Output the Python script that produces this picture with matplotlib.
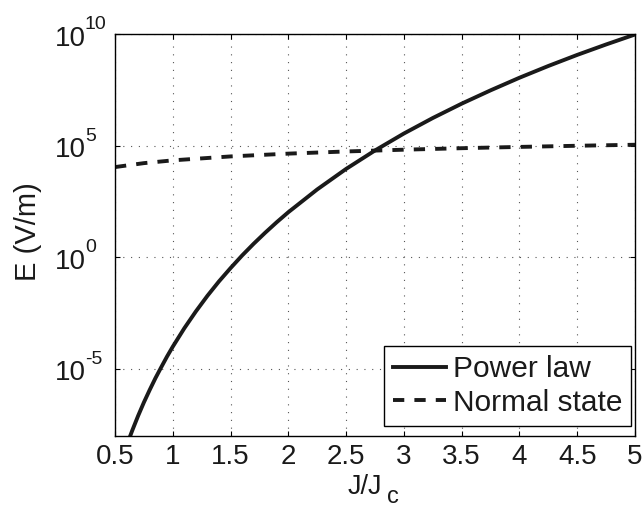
import numpy as np
import matplotlib
matplotlib.use("Agg")
import matplotlib.pyplot as plt
import matplotlib.transforms as mtransforms
from matplotlib.ticker import FixedLocator, NullLocator

plt.rcParams['font.family'] = ['Liberation Sans', 'DejaVu Sans']

# power law curve
j_pl = [0.6, 0.65, 0.7, 0.75, 0.8, 0.85, 0.9, 0.95, 1.0, 1.1, 1.2, 1.3, 1.4, 1.5, 1.6, 1.7,
        1.8, 1.9, 2.0, 2.25, 2.5, 2.75, 3.0, 3.25, 3.5, 3.75, 4.0, 4.25, 4.5, 4.75, 5.0]
e_pl = [3.7e-9, 1.8e-8, 8.0e-8, 3.2e-7, 1.15e-6, 3.9e-6, 1.2e-5, 3.6e-5, 1e-4, 6.7e-4,
        3.8e-3, 1.9e-2, 8.4e-2, 0.33, 1.21, 4.06, 12.7, 37.6, 105, 1.1e3, 9.1e3, 6.1e4,
        3.5e5, 1.73e6, 7.6e6, 3.0e7, 1.1e8, 3.7e8, 1.16e9, 3.4e9, 9.5e9]

# normal state curve
j_ns = [0.5, 0.75, 1.0, 1.5, 2.0, 2.5, 3.0, 3.5, 4.0, 4.5, 5.0]
e_ns = [1.1e4, 1.65e4, 2.2e4, 3.3e4, 4.4e4, 5.5e4, 6.6e4, 7.7e4, 8.8e4, 9.9e4, 1.1e5]

xticks = [0.5, 1, 1.5, 2, 2.5, 3, 3.5, 4, 4.5, 5]
xticklabels = ['0.5', '1', '1.5', '2', '2.5', '3', '3.5', '4', '4.5', '5']
yticks = [1e-5, 1e0, 1e5, 1e10]
yexps = ['-5', '0', '5', '10']

W, H = 644, 509
fig = plt.figure(figsize=(W/100, H/100), dpi=100)
ax = fig.add_axes([115/W, 1-436/H, 520/W, 402/H])

ax.plot(j_pl, e_pl, color='#1a1a1a', lw=2.8, label='Power law')
ax.plot(j_ns, e_ns, color='#1a1a1a', lw=2.8, ls=(0, (2.9, 2.6)), label='Normal state')

ax.set_yscale('log')
ax.set_xlim(0.5, 5)
ax.set_ylim(1e-8, 1e10)
ax.set_xticks(xticks)
ax.set_xticklabels(xticklabels)
ax.yaxis.set_major_locator(FixedLocator(yticks))
ax.yaxis.set_minor_locator(NullLocator())
ax.set_yticklabels([])

ax.grid(True, ls=(0, (1, 6)), color='#555555', lw=0.8)
ax.tick_params(direction='in', top=True, right=True, length=3.6, width=0.8)
ax.tick_params(axis='x', labelsize=20, pad=6, labelcolor='#1a1a1a')
for s in ax.spines.values():
    s.set_linewidth(1.0)

# y tick labels drawn like 10 with a superscript
btrans = mtransforms.blended_transform_factory(fig.transFigure, ax.transData)
for v, ex in zip(yticks, yexps):
    t1 = mtransforms.offset_copy(btrans, fig=fig, x=0, y=-11.5, units='dots')
    ax.text(55/W, v, '10', transform=t1, fontsize=20, ha='left', va='baseline', color='#1a1a1a')
    t2 = mtransforms.offset_copy(btrans, fig=fig, x=0, y=5, units='dots')
    ax.text(85/W, v, ex, transform=t2, fontsize=14, ha='left', va='baseline', color='#1a1a1a')

# axis labels
fig.text(348/W, 1-494/H, 'J/J', fontsize=19.5, ha='left', va='baseline', color='#1a1a1a')
fig.text(387/W, 1-503/H, 'c', fontsize=17, ha='left', va='baseline', color='#1a1a1a')
fig.text(28/W, 1-232/H, 'E (V/m)', fontsize=21, rotation=90, ha='center', va='center',
         color='#1a1a1a')

leg = ax.legend(loc='upper right', bbox_to_anchor=((631-115)/520, (436-346)/402),
                fontsize=21.5, frameon=True, fancybox=False, framealpha=1,
                edgecolor='black', handlelength=1.77, handletextpad=0.23,
                borderpad=0.3, labelspacing=0.19, borderaxespad=0.0)
leg.get_frame().set_linewidth(1.0)
for t in leg.get_texts():
    t.set_color('#1a1a1a')

fig.savefig('out.png', dpi=100)
